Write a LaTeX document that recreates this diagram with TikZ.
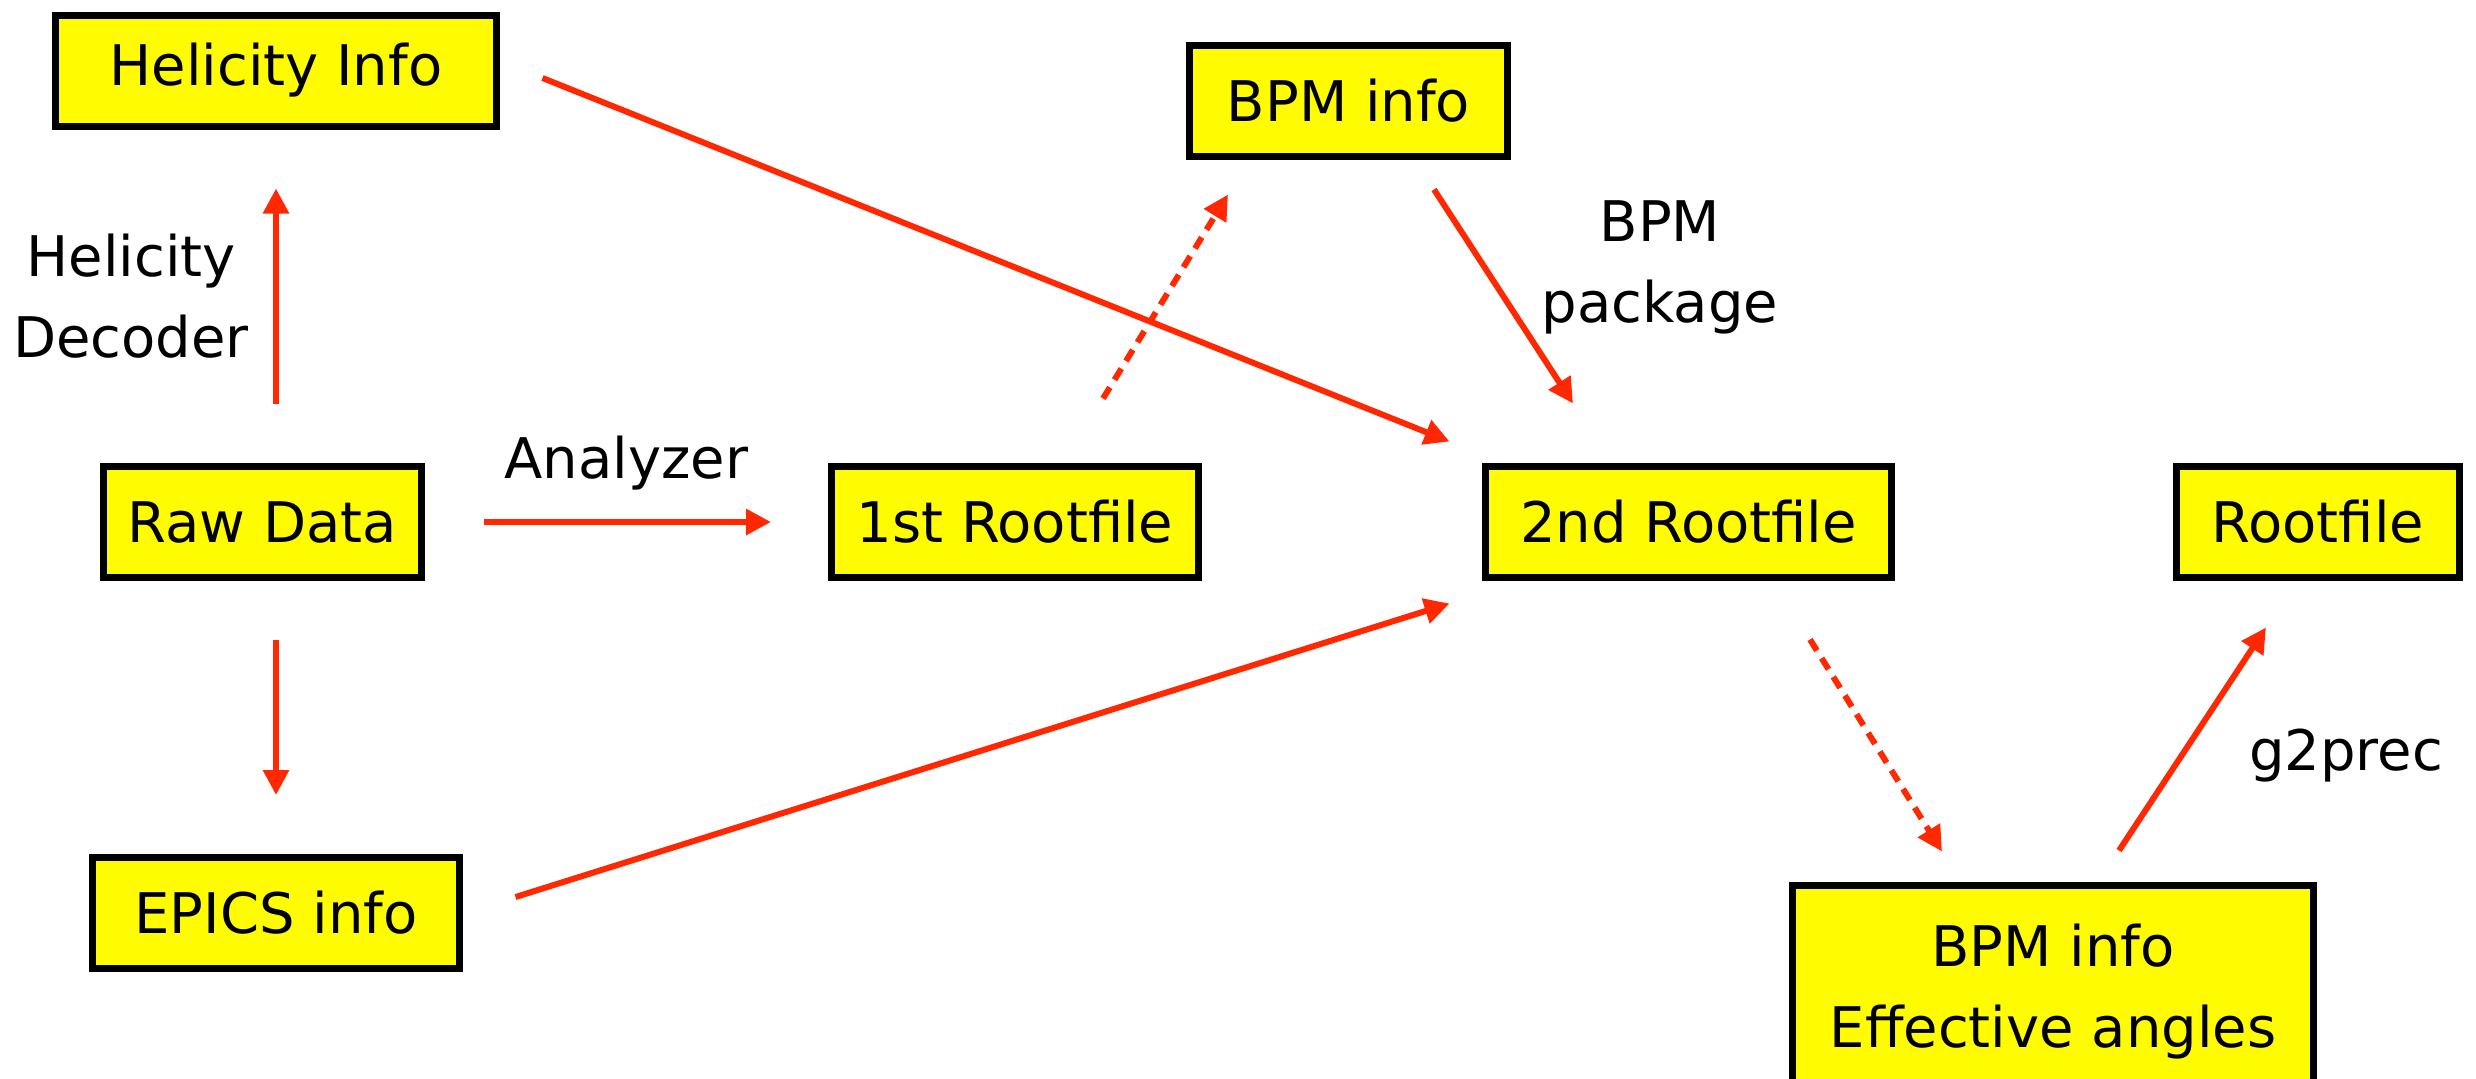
\documentclass[tikz,border=0pt]{standalone}
\usepackage{fontspec}
\setmainfont{DejaVu Sans}
\usetikzlibrary{arrows.meta,calc,positioning}

\definecolor{flowred}{RGB}{255,40,0}
\definecolor{boxyellow}{RGB}{255,251,0}

\tikzset{
  databox/.style={draw=black, line width=3.5pt, fill=boxyellow, inner sep=0pt,
    minimum height=55.5pt, align=center},
  flow/.style={draw=flowred, line width=3pt, -{Triangle[length=12.5pt,width=12.5pt]}},
  dflow/.style={flow, dash pattern=on 6.5pt off 4.5pt},
  lbl/.style={align=center, inner sep=0pt}
}

\begin{document}
\begin{tikzpicture}[x=0.5pt,y=-0.5pt,font=\fontsize{28pt}{40.5pt}\selectfont]

\useasboundingbox (0,0) rectangle (2476,1078);
\clip (0,0) rectangle (2476,1078);

% data boxes
\node[databox, minimum width=220.5pt] (helinfo) at (276,70.5) {Helicity Info};
\node[databox, minimum width=159pt] (bpminfo) at (1348.5,100.5) {BPM info};
\node[databox, minimum width=159pt] (raw) at (262.5,522) {Raw Data};
\node[databox, minimum width=183.5pt] (first) at (1015,522) {1st Rootfile};
\node[databox, minimum width=203pt] (second) at (1688.5,522) {2nd Rootfile};
\node[databox, minimum width=141.5pt] (root) at (2318,522) {Rootfile};
\node[databox, minimum width=183.5pt] (epics) at (276,913) {EPICS info};
\node[databox, minimum width=260.5pt, minimum height=106.5pt] (bpmeff) at (2053,992) {BPM info\\Effective angles};

% straight flows
\draw[flow, shorten <=29.5pt, shorten >=29.5pt] (raw.north -| helinfo.south) -- (helinfo.south)
  node[midway, left=12pt, lbl] {Helicity\\Decoder};
\draw[flow, shorten <=29.5pt, shorten >=29.5pt] (raw.south -| epics.north) -- (epics.north);
\draw[flow, shorten <=29.5pt, shorten >=28.5pt] (raw.east) -- (first.west)
  node[midway, above=14.5pt, lbl] {Analyzer};

% into the 2nd rootfile
\draw[flow] ($(helinfo.east)+(42.5,7.5)$) -- ($(second.north west)+(-32.5,-21.5)$);
\draw[flow] ($(bpminfo.south)+(85.5,30)$) -- ($(second.north)+(-115.5,-59.5)$);
\draw[flow] ($(epics.east)+(52.5,-16)$) -- ($(second.south west)+(-32.5,22.5)$);
\node[lbl] (bpmpkg) at (1660,267) {BPM\\package};

% dashed ones
\draw[dflow] ($(first.north)+(88,-64.5)$) -- ($(bpminfo.south)+(-120.5,35)$);
\draw[dflow] ($(second.south)+(121.5,58.5)$) -- ($(bpmeff.north)+(-111,-30.5)$);

% final step
\draw[flow] ($(bpmeff.north)+(66,-31.5)$) -- ($(root.south)+(-52,46.5)$);
\node[lbl, anchor=base] (g2p) at (2346,770) {g2prec};

\end{tikzpicture}
\end{document}
